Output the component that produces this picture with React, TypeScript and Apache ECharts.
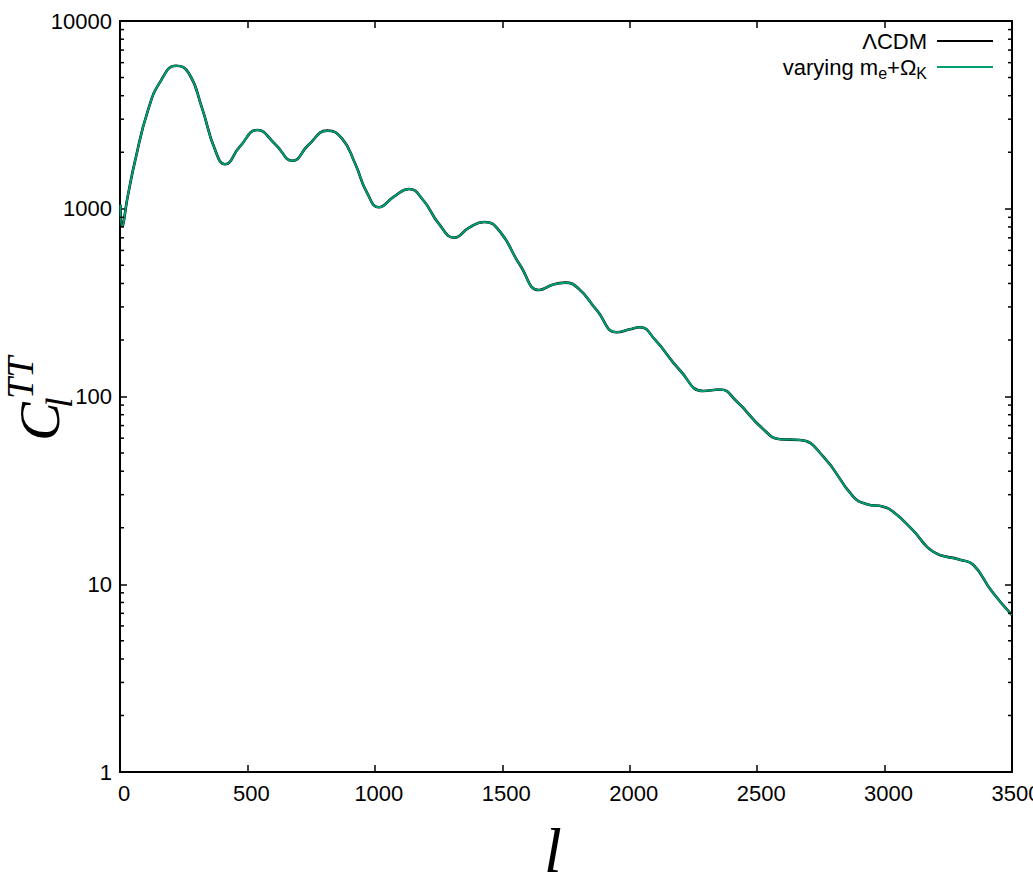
import React, { useEffect, useRef } from "react";
import * as echarts from "echarts";

// multipole l
const ells = [
  2, 8, 30, 60, 110, 160, 220, 270, 320, 373, 412, 470, 539, 610, 677, 740, 813, 870, 922, 970,
  1016, 1075, 1134, 1190, 1250, 1312, 1370, 1430, 1491, 1570, 1645, 1700, 1746, 1800, 1870, 1949,
  2000, 2040, 2100, 2197, 2289, 2354, 2420, 2524, 2590, 2668, 2760, 2877, 2930, 2995, 3034, 3110,
  3191, 3296, 3348, 3420, 3499,
];

// C_l^TT for LambdaCDM
const clLCDM = [
  1050, 810, 1160, 1820, 3350, 4800, 5780, 5270, 3500, 2060, 1726, 2140, 2626, 2200, 1803, 2190,
  2606, 2380, 1746, 1210, 1018, 1160, 1274, 1110, 836, 701, 793, 850, 755, 500, 369, 395, 404, 375,
  289, 220, 228, 234, 200, 138, 107, 109, 94, 67, 59.2, 58.7, 47.8, 29.3, 26.7, 25.9, 24.3, 19.5,
  14.9, 13.5, 12.7, 9.2, 6.86,
];

// C_l^TT for varying m_e + Omega_K (visually identical)
const clVarying = [
  1050, 810, 1160, 1820, 3350, 4800, 5780, 5270, 3500, 2060, 1726, 2140, 2626, 2200, 1803, 2190,
  2606, 2380, 1746, 1210, 1018, 1160, 1274, 1110, 836, 701, 793, 850, 755, 500, 369, 395, 404, 375,
  289, 220, 228, 234, 200, 138, 107, 109, 94, 67, 59.2, 58.7, 47.8, 29.3, 26.7, 25.9, 24.3, 19.5,
  14.9, 13.5, 12.7, 9.2, 6.86,
];

const seriesNames = ["ΛCDM", "varying m_e+Ω_K"];
const xTickLabels = ["0", "500", "1000", "1500", "2000", "2500", "3000", "3500"];
const yTickLabels = ["1", "10", "100", "1000", "10000"];
const decades = [1, 10, 100, 1000];
const minorMultipliers = [2, 3, 4, 5, 6, 7, 8, 9];

const FONT = "'Liberation Sans', Arial, sans-serif";
const SERIF = "'Liberation Serif', 'Times New Roman', serif";

export default function App() {
  const ref = useRef<HTMLDivElement>(null);

  useEffect(() => {
    if (!ref.current) return;
    const chart = echarts.init(ref.current, undefined, { renderer: "svg" });

    const minorTicks: number[][] = [];
    decades.forEach((d) => minorMultipliers.forEach((m) => minorTicks.push([0, d * m])));

    const xMin = Number(xTickLabels[0]);
    const xMax = Number(xTickLabels[xTickLabels.length - 1]);
    const yMin = Number(yTickLabels[0]);
    const yMax = Number(yTickLabels[yTickLabels.length - 1]);

    const axisLine = { show: true, onZero: false, lineStyle: { color: "#000", width: 2 } };
    const tick = { show: true, inside: true, length: 7, lineStyle: { color: "#000", width: 1.5 } };

    const option: any = {
      animation: false,
      backgroundColor: "#fff",
      grid: {
        left: 120,
        right: 21,
        top: 21,
        bottom: 109,
        containLabel: false,
        outerBoundsMode: "none",
      },
      legend: {
        orient: "vertical",
        right: 35,
        top: 25,
        align: "right",
        icon: "rect",
        itemWidth: 56,
        itemHeight: 2,
        itemGap: 4,
        data: seriesNames,
        selectedMode: false,
        formatter: (name: string) =>
          name === seriesNames[1] ? "{n|varying m}{s|e}{n|+Ω}{s|K}" : "{n|" + name + "}",
        textStyle: {
          color: "#000",
          fontFamily: FONT,
          fontSize: 22,
          padding: [0, 5, 0, 0],
          rich: {
            n: { fontFamily: FONT, fontSize: 22, color: "#000" },
            s: { fontFamily: FONT, fontSize: 16, color: "#000", padding: [12, 0, 0, 0] },
          },
        },
      },
      xAxis: [
        {
          type: "value",
          min: xMin,
          max: xMax,
          interval: 500,
          axisLine,
          axisTick: tick,
          splitLine: { show: false },
          axisLabel: {
            show: true,
            color: "#000",
            fontFamily: FONT,
            fontSize: 22,
            margin: 10,
            padding: [0, 0, 0, 8],
            showMaxLabel: true,
            showMinLabel: true,
            hideOverlap: false,
            formatter: (v: number) => xTickLabels[Math.round(v / 500)] ?? String(v),
          },
        },
        {
          type: "value",
          position: "top",
          min: xMin,
          max: xMax,
          interval: 500,
          axisLine,
          axisTick: tick,
          splitLine: { show: false },
          axisLabel: { show: false },
        },
      ],
      yAxis: [
        {
          type: "log",
          logBase: 10,
          min: yMin,
          max: yMax,
          splitNumber: 4,
          axisLine,
          axisTick: tick,
          splitLine: { show: false },
          axisLabel: {
            color: "#000",
            fontFamily: FONT,
            fontSize: 22,
            margin: 8,
            formatter: (v: number) => String(Math.round(v)),
          },
        },
        {
          type: "log",
          logBase: 10,
          position: "right",
          min: yMin,
          max: yMax,
          splitNumber: 4,
          axisLine,
          axisTick: tick,
          splitLine: { show: false },
          axisLabel: { show: false },
        },
      ],
      series: [
        {
          name: seriesNames[0],
          type: "line",
          data: ells.map((l, i) => [l, clLCDM[i]]),
          showSymbol: false,
          symbol: "none",
          smooth: 0.5,
          lineStyle: { color: "#000", width: 2.6 },
          itemStyle: { color: "#000" },
          z: 2,
        },
        {
          name: seriesNames[1],
          type: "line",
          data: ells.map((l, i) => [l, clVarying[i]]),
          showSymbol: false,
          symbol: "none",
          smooth: 0.5,
          lineStyle: { color: "#009e73", width: 2 },
          itemStyle: { color: "#009e73" },
          z: 3,
        },
        {
          type: "custom",
          silent: true,
          data: minorTicks,
          clip: false,
          renderItem: (_p: any, api: any) => {
            const v = api.value(1);
            const pl = api.coord([xMin, v]);
            const pr = api.coord([xMax, v]);
            return {
              type: "group",
              children: [
                {
                  type: "line",
                  shape: { x1: pl[0], y1: pl[1], x2: pl[0] + 4, y2: pl[1] },
                  style: { stroke: "#000", lineWidth: 1.5 },
                },
                {
                  type: "line",
                  shape: { x1: pr[0] - 4, y1: pr[1], x2: pr[0], y2: pr[1] },
                  style: { stroke: "#000", lineWidth: 1.5 },
                },
              ],
            };
          },
          z: 5,
        },
      ],
      graphic: [
        {
          type: "text",
          x: 39,
          y: 441,
          rotation: Math.PI / 2,
          style: {
            text: "C",
            font: "italic 58px " + SERIF,
            fill: "#000",
            textAlign: "left",
            textVerticalAlign: "middle",
          },
        },
        {
          type: "text",
          x: 20,
          y: 399,
          rotation: Math.PI / 2,
          style: {
            text: "TT",
            font: "italic 38px " + SERIF,
            fill: "#000",
            textAlign: "left",
            textVerticalAlign: "middle",
          },
        },
        {
          type: "text",
          x: 59,
          y: 408,
          rotation: Math.PI / 2,
          style: {
            text: "l",
            font: "italic 38px " + SERIF,
            fill: "#000",
            textAlign: "left",
            textVerticalAlign: "middle",
          },
        },
        {
          type: "text",
          x: 553,
          y: 850,
          style: {
            text: "l",
            font: "italic 64px " + SERIF,
            lineHeight: 50,
            fill: "#000",
            textAlign: "center",
            textVerticalAlign: "middle",
          },
        },
      ],
    };

    chart.setOption(option);
    return () => chart.dispose();
  }, []);

  return (
    <div
      ref={ref}
      style={{ position: "absolute", left: 0, top: 0, width: 1033, height: 881, background: "#fff" }}
    />
  );
}
